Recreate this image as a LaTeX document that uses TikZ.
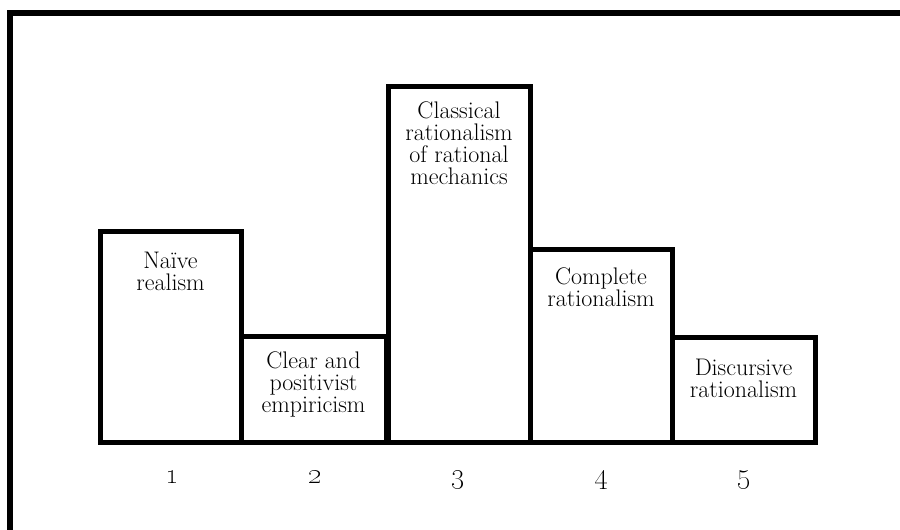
\documentclass[tikz,border=0pt]{standalone}
\usepackage{tikz}

\tikzset{
  barbox/.style={line width=5pt, line join=miter},
  barlabel/.style={align=center, inner sep=0pt, anchor=north,
    font=\fontsize{24}{22}\selectfont},
  barnum/.style={inner sep=0pt, anchor=base, font=\fontsize{28}{28}\selectfont},
}

\begin{document}
\begin{tikzpicture}[x=1pt, y=-1pt]

  \useasboundingbox (0,0) rectangle (900,530);

  \newcommand\Bot{442};

  % frame
  \draw[line width=6pt] (10,530) -- (10,13) -- (900,13);

  % bars
  \draw[barbox] (100,\Bot) rectangle (241,231);
  \draw[barbox] (241,\Bot) rectangle (386,336);
  \draw[barbox] (388,\Bot) rectangle (530,86);
  \draw[barbox] (530,\Bot) rectangle (672,249);
  \draw[barbox] (672,\Bot) rectangle (815,337);

  \node[barlabel] (naive) at (170.5,252) {Naïve\\realism};
  \node[barlabel] (clear) at (313.5,352) {Clear and\\positivist\\empiricism};
  \node[barlabel] (classical) at (459,102) {Classical\\rationalism\\of rational\\mechanics};
  \node[barlabel] (complete) at (601,268) {Complete\\rationalism};
  \node[barlabel] (discursive) at (743.5,359) {Discursive\\rationalism};

  % numbers
  \node[barnum] (n1) at (172,483) {\oldstylenums{1}};
  \node[barnum] (n2) at (315,483) {\oldstylenums{2}};
  \node[barnum] (n3) at (458,483) {\oldstylenums{3}};
  \node[barnum] (n4) at (601,483) {\oldstylenums{4}};
  \node[barnum] (n5) at (744,483) {\oldstylenums{5}};

\end{tikzpicture}
\end{document}
